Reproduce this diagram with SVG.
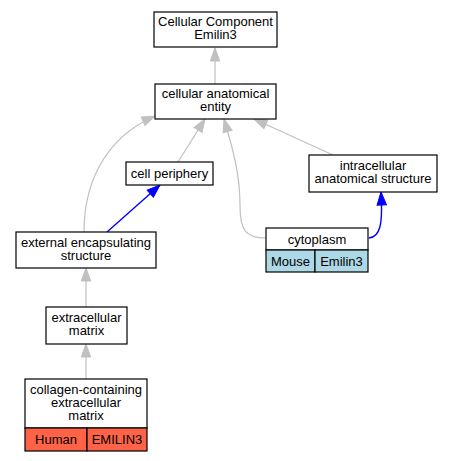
<svg xmlns="http://www.w3.org/2000/svg" width="453" height="461" viewBox="0 0 453 461">
<style>
.box{fill:#fff;stroke:#000;stroke-width:1.2}
.t{font-family:"Liberation Sans",Arial,sans-serif;font-size:13px;fill:#000;text-anchor:middle}
.g{fill:none;stroke:#c0c0c0;stroke-width:1.2}
.b{fill:none;stroke:#0000ff;stroke-width:1.4}
</style>
<defs>
<marker id="ag" markerUnits="userSpaceOnUse" markerWidth="14" markerHeight="10" refX="13" refY="5" orient="auto" overflow="visible">
<path d="M0,0.3 L13,5 L0,9.7 z" fill="#c0c0c0" stroke="#c0c0c0" stroke-width="1"/>
</marker>
<marker id="ab" markerUnits="userSpaceOnUse" markerWidth="14" markerHeight="10" refX="13" refY="5" orient="auto" overflow="visible">
<path d="M0,0.3 L13,5 L0,9.7 z" fill="#0000ff" stroke="#0000ff" stroke-width="1"/>
</marker>
</defs>
<rect width="453" height="461" fill="#fff"/>
<g id="edges">
<path class="g" d="M215,84 L215,48" marker-end="url(#ag)"/>
<path class="g" d="M178,162 L205,119" marker-end="url(#ag)"/>
<path class="g" d="M84,232 C84,190 100,140 155,116" marker-end="url(#ag)"/>
<path class="g" d="M266,238 C245,238 240,230 240,205 C240,170 230,140 224,119" marker-end="url(#ag)"/>
<path class="g" d="M333,155 L254,119" marker-end="url(#ag)"/>
<path class="b" d="M107,232 L160,185" marker-end="url(#ab)"/>
<path class="b" d="M369,238 C380,237 383,225 381,192" marker-end="url(#ab)"/>
<path class="g" d="M86,307 L86,268" marker-end="url(#ag)"/>
<path class="g" d="M86,379 L86,344" marker-end="url(#ag)"/>
</g>
<g id="node-root">
<rect class="box" x="154" y="12" width="123" height="35"/>
<text class="t" x="215.5" y="26">Cellular Component</text>
<text class="t" x="215.5" y="39">Emilin3</text>
</g>
<g id="node-cae">
<rect class="box" x="155" y="84" width="121" height="35"/>
<text class="t" x="215.5" y="98">cellular anatomical</text>
<text class="t" x="215.5" y="111">entity</text>
</g>
<g id="node-cp">
<rect class="box" x="126" y="162" width="87" height="23"/>
<text class="t" x="169.5" y="178">cell periphery</text>
</g>
<g id="node-ias">
<rect class="box" x="309" y="155" width="128" height="37"/>
<text class="t" x="373" y="170">intracellular</text>
<text class="t" x="373" y="183">anatomical structure</text>
</g>
<g id="node-ees">
<rect class="box" x="16" y="232" width="140" height="36"/>
<text class="t" x="86" y="246.5">external encapsulating</text>
<text class="t" x="86" y="259.5">structure</text>
</g>
<g id="node-cyto">
<rect class="box" x="266" y="228" width="102" height="22"/>
<text class="t" x="317" y="243.5">cytoplasm</text>
<rect class="box" x="266" y="250" width="49" height="22" fill="#add8e6" style="fill:#add8e6"/>
<text class="t" x="290.5" y="265.5">Mouse</text>
<rect class="box" x="315" y="250" width="53" height="22" style="fill:#add8e6"/>
<text class="t" x="341.5" y="265.5">Emilin3</text>
</g>
<g id="node-ecm">
<rect class="box" x="46" y="307" width="81" height="37"/>
<text class="t" x="86.5" y="322">extracellular</text>
<text class="t" x="86.5" y="335">matrix</text>
</g>
<g id="node-col">
<rect class="box" x="25" y="379" width="122" height="49"/>
<text class="t" x="86" y="393.5">collagen-containing</text>
<text class="t" x="86" y="406.5">extracellular</text>
<text class="t" x="86" y="420">matrix</text>
<rect class="box" x="25" y="428" width="62" height="23" style="fill:#ff6347"/>
<text class="t" x="56" y="443.5">Human</text>
<rect class="box" x="87" y="428" width="60" height="23" style="fill:#ff6347"/>
<text class="t" x="117" y="443.5">EMILIN3</text>
</g>
</svg>
